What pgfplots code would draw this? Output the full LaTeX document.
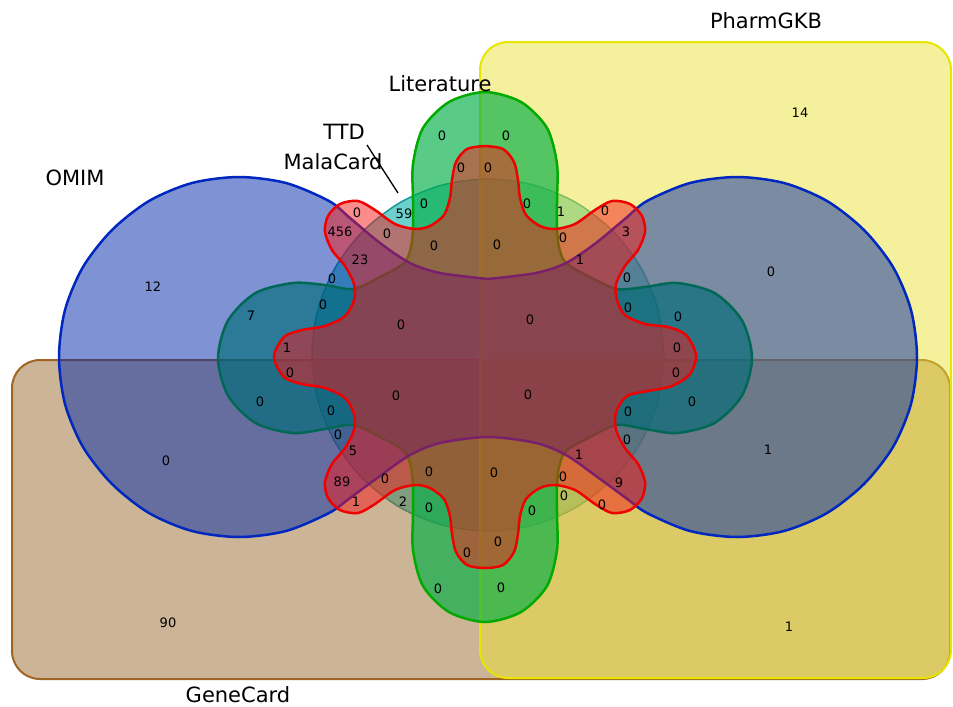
\documentclass[border=0pt]{standalone}
\usepackage{pgfplots}
\pgfplotsset{compat=1.18}
\usepackage{fontspec}
\setmainfont{DejaVu Sans}
\definecolor{brownF}{RGB}{151,107,45}
\definecolor{brownB}{RGB}{160,100,35}
\definecolor{yelF}{RGB}{235,225,55}
\definecolor{yelB}{RGB}{230,230,0}
\definecolor{circF}{RGB}{10,177,172}
\definecolor{circB}{RGB}{30,150,150}
\definecolor{greenF}{RGB}{0,175,70}
\definecolor{greenB}{RGB}{0,170,0}
\definecolor{blueF}{RGB}{0,40,170}
\definecolor{blueB}{RGB}{0,40,190}
\definecolor{redF}{RGB}{245,25,25}
\definecolor{redB}{RGB}{240,0,0}
\newcommand\numfont{\fontsize{13bp}{15bp}\selectfont}
\newcommand\labfont{\fontsize{21bp}{24bp}\selectfont}
\begin{document}
\begin{tikzpicture}
\begin{axis}[scale only axis, width=953bp, height=706bp,
  xmin=0, xmax=953, ymin=0, ymax=706, y dir=reverse,
  hide axis, clip=false]
% MalaCard / TTD circle
\addplot[draw=circB, line width=1.5bp, fill=circF, fill opacity=0.6, smooth] coordinates {
(664,355) (658,309.4) (640.4,267) (612.4,230.6) (576,202.6) (533.6,185) (488,179)
(442.4,185) (400,202.6) (363.6,230.6) (335.6,267) (318,309.4) (312,355)
(318,400.6) (335.6,443) (363.6,479.4) (400,507.4) (442.4,525) (488,531)
(533.6,525) (576,507.4) (612.4,479.4) (640.4,443) (658,400.6) (664,355)} -- cycle;
% GeneCard
\addplot[draw=brownB, line width=2bp, fill=brownF, fill opacity=0.5, rounded corners=28bp] coordinates {
(400,360) (950,360) (950,679) (12,679) (12,360)} -- cycle;
% PharmGKB
\addplot[draw=yelB, line width=2bp, fill=yelF, fill opacity=0.5, rounded corners=28bp] coordinates {
(700,42) (951,42) (951,678) (480,678) (480,42)} -- cycle;
% Literature
\addplot[draw=greenB, line width=2.5bp, fill=greenF, fill opacity=0.65, smooth, tension=0.5] coordinates {
(413,228) (413,200) (413,164) (423,128) (449,102) (485,92) (521,102) (547,128) (557,164)
(557,200) (557,228) (559,247) (566,263) (590,277) (617,289) (645,287) (677,283)
(714.5,293) (742,320.5) (752,358) (742,395.5) (714.5,423) (677,433) (645,429)
(617,425) (590,437) (566,451) (559,467) (557,486) (557,514) (557,550) (547,586)
(521,612) (485,622) (449,612) (423,586) (413,550) (413,514) (413,486) (411,467)
(404,451) (380,437) (353,425) (325,429) (293,433) (255.5,423) (228,395.5) (218,358)
(228,320.5) (255.5,293) (293,283) (325,285) (353,289) (380,277) (404,263) (411,247) (413,228)} -- cycle;
% OMIM
\addplot[draw=blueB, line width=2.5bp, fill=blueF, fill opacity=0.5, smooth] coordinates {
(488,279) (440,273) (410,263) (380,243) (350,218) (329,201) (286,183) (239,177) (192,183)
(149,201) (112,230) (83,267) (65,310) (59,357) (65,404) (83,447) (112,484) (149,513)
(192,531) (239,537) (286,531) (329,513) (350,498) (380,476) (410,455) (440,443) (488,437)
(536,443) (566,455) (596,476) (626,498) (647,513) (690,531) (737,537) (784,531) (827,513)
(864,484) (893,447) (911,404) (917,357) (911,310) (893,267) (864,230) (827,201) (784,183)
(737,177) (690,183) (647,201) (626,218) (596,243) (566,263) (536,273) (488,279)} -- cycle;
% red set
\addplot[draw=redB, line width=2.5bp, fill=redF, fill opacity=0.5, smooth] coordinates {
(485,146) (503,149) (514,162) (518,180) (520,198) (526,215) (540,226) (555,229) (575,224)
(595,210) (612,201) (630,204) (642,216) (645,232) (638,250) (625,266) (616,284) (617,300)
(625,315) (645,324) (668,327) (686,335) (696,355)
(690,374) (672,386) (648,391) (627,396) (616,412) (616,430) (625,448) (638,464) (645,482)
(642,498) (630,510) (612,513) (595,504) (575,490) (555,485) (540,488) (526,499) (520,516)
(518,534) (514,552) (503,565) (485,568)
(467,565) (456,552) (452,534) (450,516) (444,499) (430,488) (415,485) (395,490) (375,504)
(358,513) (340,510) (328,498) (325,482) (332,464) (345,448) (354,430) (354,414) (345,398)
(325,388) (302,384) (284,377) (274,357)
(284,337) (302,330) (325,326) (345,316) (354,300) (354,284) (345,266) (332,250) (325,232)
(328,216) (340,204) (358,201) (375,210) (395,224) (415,229) (430,226) (444,215) (450,198)
(452,180) (456,162) (467,149) (485,146)} -- cycle;
% pointer line
\addplot[black, line width=1.3bp] coordinates {(367,145) (398,193)};
% set labels
\node[font=\labfont] at (axis cs:766,21) {PharmGKB};
\node[font=\labfont] at (axis cs:440,84) {Literature};
\node[font=\labfont] at (axis cs:344,132) {TTD};
\node[font=\labfont] at (axis cs:333,162) {MalaCard};
\node[font=\labfont] at (axis cs:75,178) {OMIM};
\node[font=\labfont] at (axis cs:238,695) {GeneCard};
% counts
\foreach \x/\y/\t in {800/113/14, 771/272/0, 153/287/12, 166/461/0, 168/623/90, 789/627/1,
  768/450/1, 442/136/0, 506/136/0, 461/168/0, 488/168/0, 424/204/0, 527/204/0, 561/212/1,
  605/211/0, 357/213/0, 404/214/59, 340/232/456, 387/234/0, 434/246/0, 497/245/0, 563/238/0,
  626/232/3, 360/260/23, 580/260/1, 332/279/0, 627/278/0, 323/305/0, 628/308/0, 251/316/7,
  678/317/0, 401/325/0, 530/320/0, 287/348/1, 677/348/0, 290/373/0, 676/373/0, 396/396/0,
  528/395/0, 260/402/0, 692/402/0, 331/411/0, 628/412/0, 338/435/0, 627/440/0, 353/451/5,
  579/455/1, 429/472/0, 494/473/0, 385/479/0, 563/477/0, 342/482/89, 619/483/9, 356/502/1,
  403/502/2, 564/496/0, 602/505/0, 429/508/0, 532/511/0, 467/553/0, 498/542/0, 438/589/0,
  501/588/0}{
  \edef\temp{\noexpand\node[font=\noexpand\numfont, inner sep=0pt] at (axis cs:\x,\y) {\t};}
  \temp
}
\end{axis}
\path (current axis.south west) rectangle (current axis.north east);
\end{tikzpicture}
\end{document}
